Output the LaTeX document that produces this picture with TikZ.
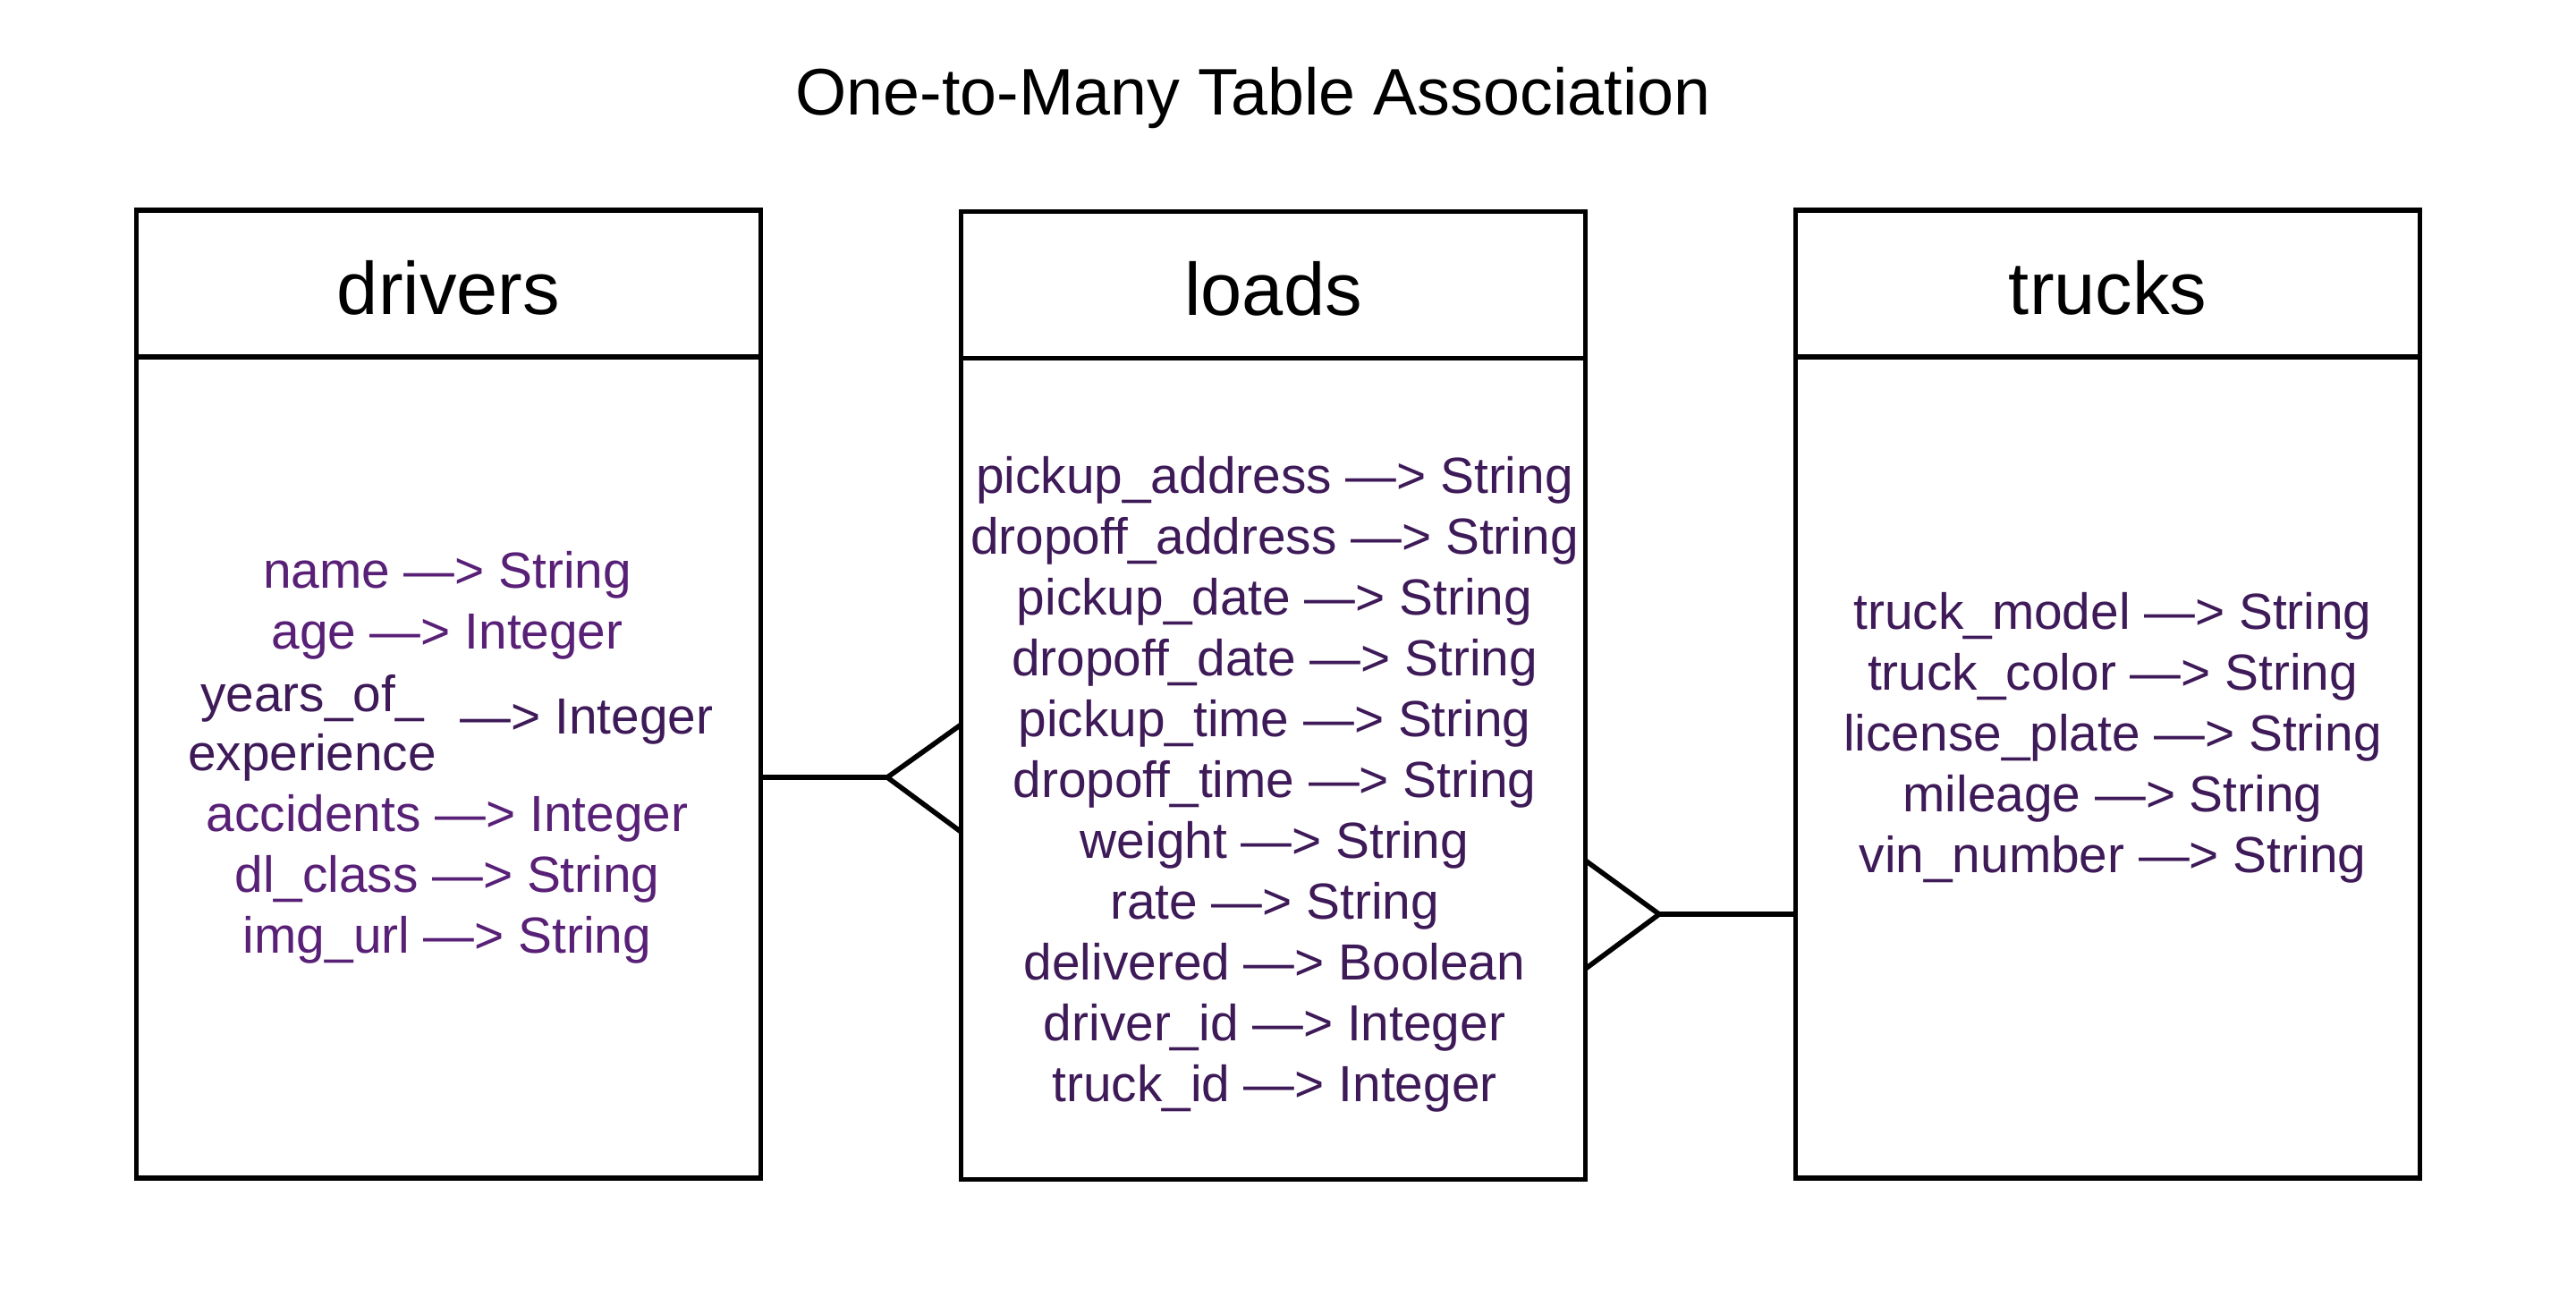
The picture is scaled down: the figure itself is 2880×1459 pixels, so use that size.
\documentclass[tikz,border=0pt]{standalone}
\usepackage{fontspec}
\setmainfont{Liberation Sans}
\definecolor{attrA}{RGB}{88,32,118}
\definecolor{attrB}{RGB}{62,26,88}
\begin{document}
\begin{tikzpicture}[x=0.25pt,y=-0.25pt,
  box/.style={draw=black,line width=1.4pt,minimum width=174.5pt,inner sep=0pt,outer sep=0pt},
  hdr/.style={box,minimum height=41pt,font=\fontsize{20.75}{24}\selectfont,text height=17.1pt,text depth=0pt},
  bdy/.style={box,minimum height=229.5pt},
  titletxt/.style={font=\fontsize{18.4}{22}\selectfont,anchor=base,inner sep=0pt},
  attr/.style={font=\fontsize{14.2}{17}\selectfont,anchor=base,inner sep=0pt},
  link/.style={line width=1.4pt,line join=miter}]
\useasboundingbox (0,0) rectangle (2880,1459);
\fill[white] (0,0) rectangle (2880,1459);

\node[titletxt] (title) at (1401,128) {One-to-Many Table Association};

% tables
\node[hdr] (dh) at (501.5,317) {drivers};
\node[bdy] (db) at (501.5,858) {};
\node[hdr] (lh) at (1423.5,318.5) {loads};
\node[bdy] (lb) at (1423.5,859.5) {};
\node[hdr] (th) at (2356.6,317) {trucks};
\node[bdy] (tb) at (2356.6,858) {};

% drivers attributes
\node[attr,text=attrA] (d1) at (500,657) {name —> String};
\node[attr,text=attrA] (d2) at (500,725) {age —> Integer};
\node[attr,text=attrB] (d3a) at (349,795) {years\_of\_};
\node[attr,text=attrB] (d3b) at (349,861) {experience};
\node[attr,text=attrB,anchor=base west] (d3c) at (514,820) {—> Integer};
\node[attr,text=attrA] (d4) at (500,929) {accidents —> Integer};
\node[attr,text=attrA] (d5) at (500,997) {dl\_class —> String};
\node[attr,text=attrA] (d6) at (500,1065) {img\_url —> String};

% loads attributes
\foreach \t [count=\i] in {{pickup\_address —> String},{dropoff\_address —> String},{pickup\_date —> String},{dropoff\_date —> String},{pickup\_time —> String},{dropoff\_time —> String},{weight —> String},{rate —> String},{delivered —> Boolean},{driver\_id —> Integer},{truck\_id —> Integer}}
  \node[attr,text=attrB] (l\i) at (1425,{551+68*(\i-1)}) {\t};

% trucks attributes
\foreach \t [count=\i] in {{truck\_model —> String},{truck\_color —> String},{license\_plate —> String},{mileage —> String},{vin\_number —> String}}
  \node[attr,text=attrB] (t\i) at (2362,{703+68*(\i-1)}) {\t};

% crow's foot: drivers -> loads
\coordinate (c1) at (992,869);
\draw[link] (db.east |- c1) -- (c1);
\draw[link] (lb.west |- 0,810) -- (c1) -- (lb.west |- 0,930);

% crow's foot: trucks -> loads
\coordinate (c2) at (1855,1022);
\draw[link] (tb.west |- c2) -- (c2);
\draw[link] (lb.east |- 0,962) -- (c2) -- (lb.east |- 0,1083);
\end{tikzpicture}
\end{document}
